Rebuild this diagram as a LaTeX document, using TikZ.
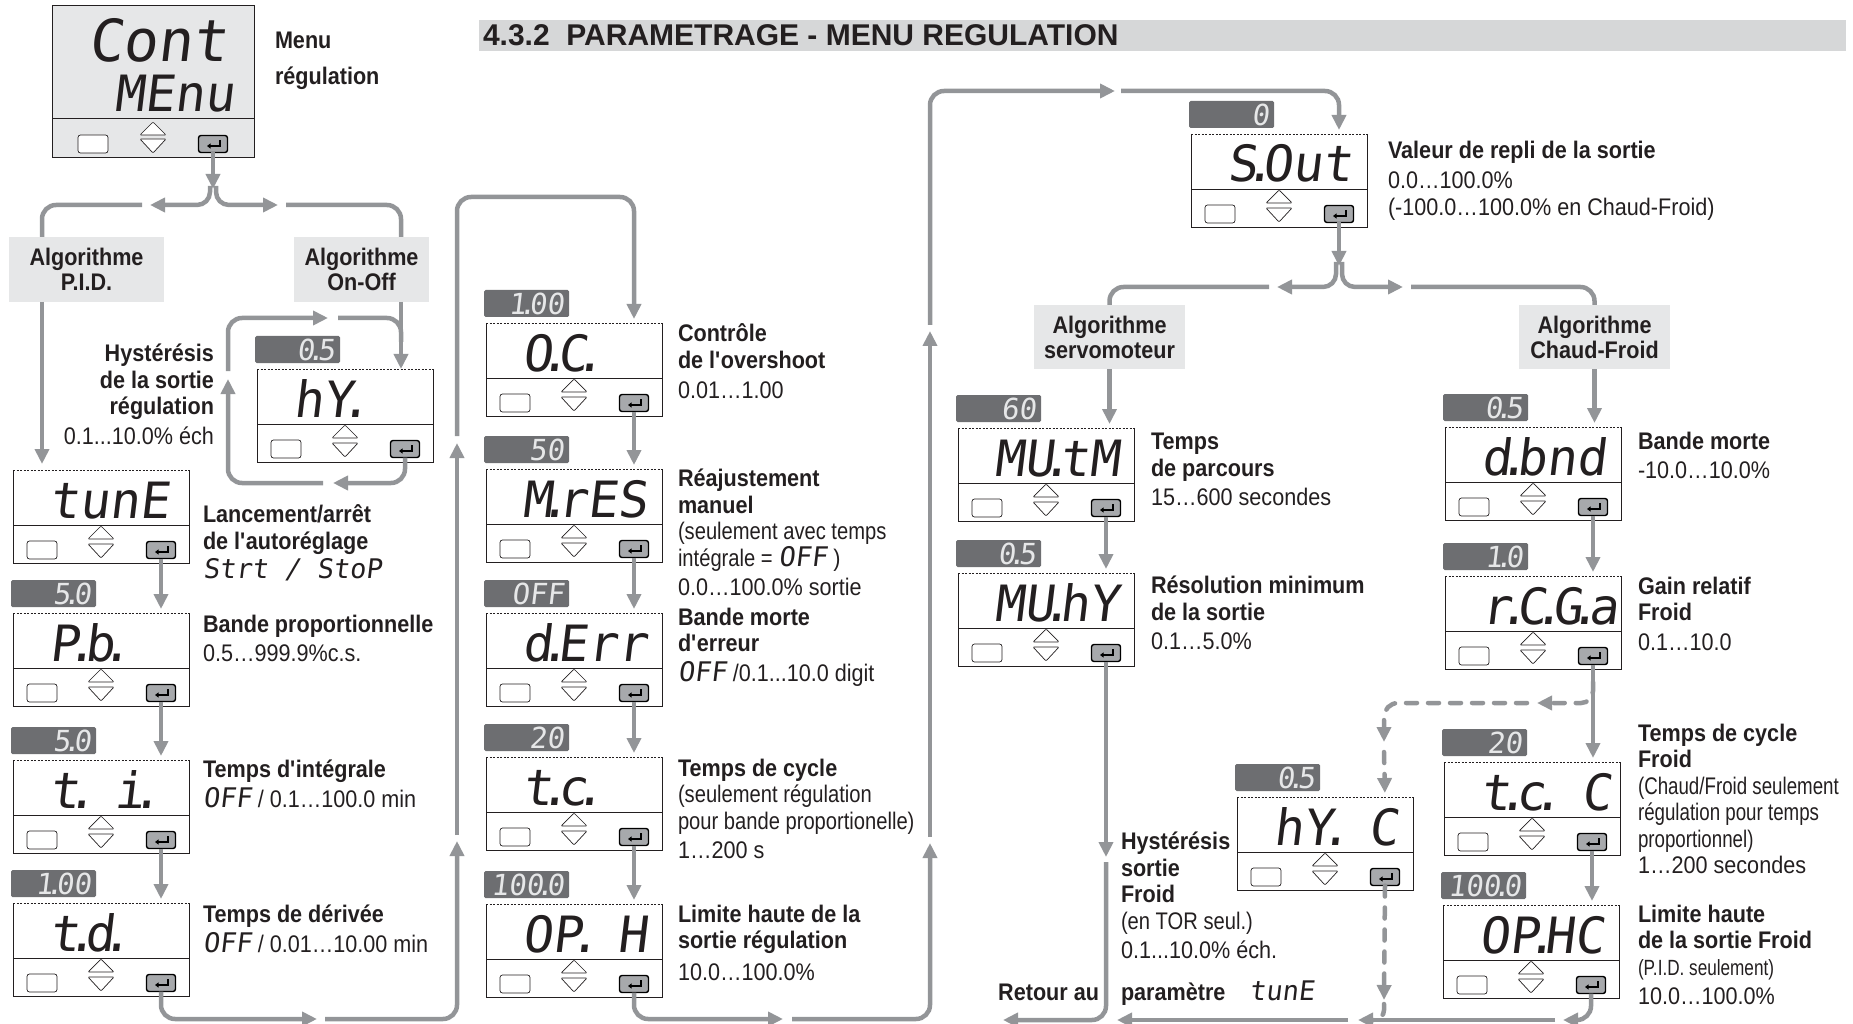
\documentclass[tikz,border=0pt]{standalone}
\usepackage{fontspec}
\setmainfont{Liberation Sans}[FakeStretch=0.9]
\newfontfamily\titlefont{Liberation Sans}
\newfontfamily\lightfont{Liberation Sans}[FakeStretch=0.84]
\newfontfamily\narrowfont{Liberation Sans}[FakeStretch=0.78]
\newfontfamily\lcdfont{DejaVu Sans Mono}[FakeSlant=0.12]
\usepackage{xstring}
\usetikzlibrary{arrows.meta,calc,positioning}

\definecolor{flowgray}{HTML}{939598}
\definecolor{valgray}{HTML}{6D6E71}
\definecolor{boxgray}{HTML}{E6E7E8}
\definecolor{titlegray}{HTML}{D6D7D8}
\definecolor{okgray}{HTML}{A7A9AC}
\definecolor{ink}{HTML}{231F20}

\newcommand\apost{\textquotesingle}
\newcommand\lcddot{\kern-.26em.\kern-.23em\relax}
\newcommand\lcd[1]{{\lcdfont\frenchspacing\noexpandarg\StrSubstitute{#1}{.}{\lcddot}}}
\newcommand\lcds[1]{{\fontsize{27}{26.5}\selectfont\lcd{#1}}}

% panel: name, left, top, display text, preset value
\newcommand\panel[5]{%
  \node[panel] (#1) at (#2,#3) {};
  \draw[rim] (#1.north west) -- (#1.south west) -- (#1.south east) -- (#1.north east);
  \draw[rimtop] (#1.north west) -- (#1.north east);
  \draw[rim] ($(#1.north west)+(0,55)$) -- ($(#1.north east)+(0,55)$);
  \node[lcdtext] at ($(#1.north west)+(36,48)$) {\lcd{#4}};
  \node[keyplain] at ($(#1.south west)+(29,-13)$) {};
  \draw[keyarrow] ($(#1.south)+(-13,-24)$) -- ++(13,-13) -- ++(13,13) -- cycle;
  \draw[keyarrow] ($(#1.south)+(-13,-19)$) -- ++(13,14) -- ++(13,-14) -- cycle;
  \node[keyok] (#1-ok) at ($(#1.south east)+(-28,-13)$) {};
  \draw[okglyph] ($(#1-ok)+(7,-4)$) -- ++(0,6) -- ++(-13,0);
  \ifx\relax#5\relax\else
    \node[valbox] at ($(#1.north west)+(83,-6)$) {\lcd{#5}};
  \fi
}

\begin{document}
\begin{tikzpicture}[x=1pt,y=-1pt,>={Triangle[length=15pt,width=14pt]},
  every node/.style={inner sep=0pt,outer sep=0pt},
  flow/.style={draw=flowgray,line width=4.5pt},
  flowdash/.style={flow,dash pattern=on 11pt off 11pt,line cap=round},
  panel/.style={anchor=north west,minimum width=176pt,minimum height=93pt},
  rim/.style={draw=ink,line width=0.8pt},
  rimtop/.style={draw=ink,line width=0.6pt,dash pattern=on 2pt off 1.5pt},
  keyplain/.style={draw=ink,line width=0.7pt,rounded corners=2.5pt,minimum width=30pt,minimum height=18pt,fill=white},
  keyok/.style={draw=black,fill=okgray,line width=1.4pt,rounded corners=2.5pt,minimum width=29pt,minimum height=17pt},
  keyarrow/.style={draw=ink,line width=0.7pt,rounded corners=1pt,fill=white},
  okglyph/.style={draw=black,line width=1.3pt,-{Triangle[length=3.5pt,width=5pt]}},
  lcdtext/.style={anchor=base west,font=\fontsize{50}{50}\selectfont,text=ink},
  valbox/.style={anchor=south east,fill=valgray,text=boxgray,rounded corners=1.5pt,text width=75pt,align=right,inner xsep=5pt,minimum height=27pt,font=\fontsize{29}{29}\selectfont},
  algbox/.style={fill=boxgray,text=ink,font=\bfseries\fontsize{24}{25}\selectfont,align=center},
  lbl/.style={anchor=north west,align=left,text=ink,font=\fontsize{24}{26.5}\selectfont}]
\useasboundingbox (0,0) rectangle (1853,1024);

\node[anchor=north west,fill=titlegray,minimum width=1367pt,minimum height=31pt] (bar) at (479,20) {};
\node[anchor=base west,text=ink,font=\titlefont\bfseries\fontsize{30}{30}\selectfont] (title) at (483,46) {4.3.2\ \ PARAMETRAGE - MENU REGULATION};

\node[anchor=north west,minimum width=202pt,minimum height=152pt,fill=boxgray,draw=ink,line width=0.8pt] (cont) at (52,5) {};
\draw[rim] ($(cont.north west)+(0,113)$) -- ($(cont.north east)+(0,113)$);
\node[lcdtext,font=\fontsize{58}{58}\selectfont] at (88,62) {\lcd{Cont}};
\node[lcdtext,font=\fontsize{50}{50}\selectfont] at (114,112) {\lcd{MEnu}};
\node[keyplain] at (93,144) {};
\draw[keyarrow] (140,135) -- ++(13,-13) -- ++(13,13) -- cycle;
\draw[keyarrow] (140,139) -- ++(13,14) -- ++(13,-14) -- cycle;
\node[keyok] (cont-ok) at (213,144) {};
\draw[okglyph] ($(cont-ok)+(7,-4)$) -- ++(0,6) -- ++(-13,0);
\node[lbl,font=\bfseries\fontsize{24}{36}\selectfont] (l-menu) at (275,32) {Menu\\régulation};

\node[algbox,minimum width=155pt,minimum height=65pt] (pid) at (86.5,269.5) {Algorithme\\P.I.D.};
\node[algbox,minimum width=135pt,minimum height=65pt] (onoff) at (361.5,269.5) {Algorithme\\On-Off};
\node[algbox,minimum width=151pt,minimum height=64pt] (servo) at (1109.5,337) {Algorithme\\servomoteur};
\node[algbox,minimum width=151pt,minimum height=64pt] (chaud) at (1594.5,337) {Algorithme\\Chaud-Froid};

\panel{tune}{13}{470}{tunE}{}
\panel{pb}{13}{613}{P.b.}{5.0}
\panel{ti}{13}{760}{t. i.}{5.0}
\panel{td}{13}{903}{t.d.}{1.00}
\panel{hy}{257}{369}{hY.}{0.5}
\panel{oc}{486}{323}{O.C.}{1.00}
\panel{mres}{486}{469}{M.rES}{50}
\panel{derr}{486}{613}{d.Err}{OFF}
\panel{tc}{486}{757}{t.c.}{20}
\panel{oph}{486}{904}{OP. H}{100.0}
\panel{sout}{1191}{134}{S.Out}{0}
\panel{mutm}{958}{428}{MU.tM}{60}
\panel{muhy}{958}{573}{MU.hY}{0.5}
\panel{hyc}{1237}{797}{hY. C}{0.5}
\panel{dbnd}{1445}{427}{d.bnd}{0.5}
\panel{rcga}{1445}{576}{r.C.G.a}{1.0}
\panel{tcc}{1444}{762}{t.c. C}{20}
\panel{ophc}{1443}{905}{OP.HC}{100.0}

\node[lbl,anchor=north east,align=right] (l-hy) at (214,344) {\textbf{Hystérésis}\\\textbf{de la sortie}\\\textbf{régulation}\\[3pt]0.1...10.0\% éch};
\node[lbl] (l-tune) at (203,505) {\textbf{Lancement/arrêt}\\\textbf{de l\apost autoréglage}\\[3pt]\lcds{Strt / StoP}};
\node[lbl] (l-pb) at (203,615) {\textbf{Bande proportionnelle}\\[3pt]0.5…999.9\%c.s.};
\node[lbl] (l-ti) at (203,760) {\textbf{Temps d\apost intégrale}\\[3pt]\lcds{OFF} / 0.1…100.0 min};
\node[lbl] (l-td) at (203,905) {\textbf{Temps de dérivée}\\[3pt]\lcds{OFF} / 0.01…10.00 min};
\node[lbl] (l-oc) at (678,324) {\textbf{Contrôle}\\\textbf{de l\apost overshoot}\\[4pt]0.01…1.00};
\node[lbl] (l-mres) at (678,469) {\textbf{Réajustement}\\\textbf{manuel}\\{\lightfont(seulement avec temps}\\{\lightfont intégrale =} \lcds{OFF} )\\[3pt]0.0…100.0\% sortie};
\node[lbl] (l-derr) at (678,608) {\textbf{Bande morte}\\\textbf{d\apost erreur}\\[3pt]\lcds{OFF} /0.1...10.0 digit};
\node[lbl] (l-tc) at (678,759) {\textbf{Temps de cycle}\\{\lightfont(seulement régulation}\\{\lightfont pour bande proportionelle)}\\[3pt]1…200 s};
\node[lbl] (l-oph) at (678,905) {\textbf{Limite haute de la}\\\textbf{sortie régulation}\\[5pt]10.0…100.0\%};
\node[lbl] (l-sout) at (1388,141) {\textbf{Valeur de repli de la sortie}\\[4pt]0.0…100.0\%\\(-100.0…100.0\% en Chaud-Froid)};
\node[lbl] (l-mutm) at (1151,433) {\textbf{Temps}\\\textbf{de parcours}\\[3pt]15…600 secondes};
\node[lbl] (l-muhy) at (1151,576) {\textbf{Résolution minimum}\\\textbf{de la sortie}\\[3pt]0.1…5.0\%};
\node[lbl] (l-dbnd) at (1638,432) {\textbf{Bande morte}\\[3pt]-10.0…10.0\%};
\node[lbl] (l-rcga) at (1638,577) {\textbf{Gain relatif}\\\textbf{Froid}\\[3pt]0.1…10.0};
\node[lbl] (l-hyc) at (1121,832) {\textbf{Hystérésis}\\\textbf{sortie}\\\textbf{Froid}\\{\lightfont(en TOR seul.)}\\[3pt]0.1...10.0\% éch.};
\node[lbl] (l-tcc) at (1638,724) {\textbf{Temps de cycle}\\\textbf{Froid}\\{\narrowfont(Chaud/Froid seulement}\\{\narrowfont régulation pour temps}\\{\narrowfont proportionnel)}\\1…200 secondes};
\node[lbl] (l-ophc) at (1638,905) {\textbf{Limite haute}\\\textbf{de la sortie Froid}\\{\narrowfont\fontsize{22}{26.5}\selectfont(P.I.D. seulement)}\\[3pt]10.0…100.0\%};
\node[lbl,anchor=base east] (l-ret) at (1099,1000) {\textbf{Retour au}};
\node[lbl,anchor=base west] (l-par) at (1121,1000) {\textbf{paramètre}\quad\lcds{tunE}};

\coordinate (fork1) at (213,189);
\draw[flow,->] (cont-ok.south) -- (fork1);
\draw[flow,->,rounded corners=13pt] (210,186) |- (150,205);
\draw[flow,rounded corners=14pt] (142,205) -| ($(pid.north west)+(33,0)$);
\draw[flow,->,rounded corners=13pt] (216,186) |- (278,205);
\draw[flow,rounded corners=14pt] (286,205) -| ($(onoff.north east)+(-28,0)$);

\draw[flow,->,shorten >=6pt] ($(pid.south west)+(33,0)$) coordinate (p1) -- (p1 |- tune.north);
\draw[flow,->] ($(onoff.south east)+(-28,0)$) coordinate (p2) -- (p2 |- hy.north);
\draw[flow,->,rounded corners=14pt] (hy-ok.south) |- (333,483);
\draw[flow,->,rounded corners=14pt] (323,483) -| (228,379);
\draw[flow,->,rounded corners=14pt] (228,371) |- (328,318);
\draw[flow,rounded corners=14pt] (338,318) -| ($(p2)+(0,40)$);

\draw[flow,->,shorten >=4pt] (tune-ok.south) -- (tune-ok |- pb.north);
\draw[flow,->,shorten >=4pt] (pb-ok.south) -- (pb-ok |- ti.north);
\draw[flow,->,shorten >=4pt] (ti-ok.south) -- (ti-ok |- td.north);
\draw[flow,->,rounded corners=14pt] (td-ok.south) |- (317,1019);
\draw[flow,->,rounded corners=14pt] (325,1019) -| (457,841);
\draw[flow,->] (457,835) -- (457,443);
\draw[flow,->,rounded corners=14pt,shorten >=4pt] (457,436) |- (634,197) -- (oc-ok |- oc.north);

\draw[flow,->,shorten >=4pt] (oc-ok.south) -- (oc-ok |- mres.north);
\draw[flow,->,shorten >=4pt] (mres-ok.south) -- (mres-ok |- derr.north);
\draw[flow,->,shorten >=4pt] (derr-ok.south) -- (derr-ok |- tc.north);
\draw[flow,->,shorten >=4pt] (tc-ok.south) -- (tc-ok |- oph.north);
\draw[flow,->,rounded corners=14pt] (oph-ok.south) |- (783,1019);
\draw[flow,->,rounded corners=14pt] (792,1019) -| (930,843);
\draw[flow,->] (930,837) -- (930,331);
\draw[flow,->,rounded corners=14pt] (930,325) |- (1115,91);
\draw[flow,->,rounded corners=14pt,shorten >=4pt] (1121,91) -| (sout-ok |- sout.north);

\coordinate (fork2) at (1339,266);
\draw[flow,->] (sout-ok.south) -- (fork2);
\draw[flow,->,rounded corners=13pt] (1336,262) |- (1277,287);
\draw[flow,rounded corners=14pt] (1269,287) -| (servo.north);
\draw[flow,->,rounded corners=13pt] (1342,262) |- (1403,287);
\draw[flow,rounded corners=14pt] (1411,287) -| (chaud.north);

\draw[flow,->,shorten >=4pt] (servo.south) -- (servo.south |- mutm.north);
\draw[flow,->,shorten >=4pt] (mutm-ok.south) -- (mutm-ok |- muhy.north);
\draw[flow,->] (muhy-ok.south) -- (1106,857);
\draw[flow,->,rounded corners=14pt] (1106,862) |- (1003,1020);

\draw[flow,->,shorten >=4pt] (chaud.south) -- (chaud.south |- dbnd.north);
\draw[flow,->,shorten >=4pt] (dbnd-ok.south) -- (dbnd-ok |- rcga.north);
\draw[flow,->,shorten >=4pt] (rcga-ok.south) -- (rcga-ok |- tcc.north);
\draw[flowdash,->,rounded corners=12pt] (1593,682) |- (1537,703);
\draw[flowdash,->,rounded corners=14pt] (1527,703) -| (1384,742);
\draw[flowdash,->,shorten >=4pt] (1384,752) -- (hyc-ok |- hyc.north);
\draw[flowdash,->] (hyc-ok.south) -- (1384,1000);
\draw[flowdash,rounded corners=10pt] (1384,1004) |- (1372,1020);
\draw[flow,->,shorten >=4pt] (tcc-ok.south) -- (tcc-ok |- ophc.north);
\draw[flow,->,rounded corners=14pt] (ophc-ok.south) |- (1563,1020);
\draw[flow,->] (1555,1020) -- (1358,1020);
\draw[flow,->] (1348,1020) -- (1117,1020);
\end{tikzpicture}
\end{document}
